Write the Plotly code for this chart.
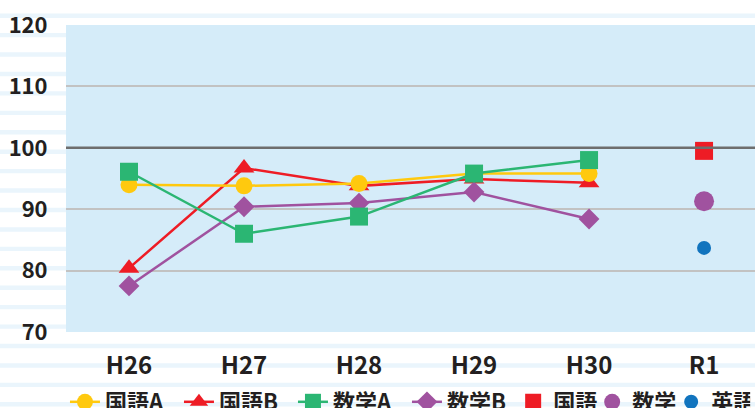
import plotly.graph_objects as go

categories = ["H26", "H27", "H28", "H29", "H30", "R1"]
years = categories[:5]
kokugo_a = [94.0, 93.8, 94.2, 95.8, 95.8]
kokugo_b = [80.4, 96.7, 93.8, 94.9, 94.3]
sugaku_a = [96.1, 86.0, 88.8, 95.8, 98.0]
sugaku_b = [77.5, 90.4, 91.0, 92.8, 88.4]
r1_cat = ["R1"]
r1_kokugo = [99.5]
r1_sugaku = [91.3]
r1_eigo = [83.7]
y_ticks = [70, 80, 90, 100, 110, 120]

FONT = "Noto Sans CJK JP"
TXT = "#231F20"
YELLOW = "#FFC90E"
RED = "#EE1C25"
GREEN = "#2BB673"
PURPLE = "#A0529F"
BLUE = "#1174BE"

fig = go.Figure()

def line_trace(name, y, color, symbol, size, rank):
    return go.Scatter(
        x=years, y=y, name=name, mode="lines+markers",
        line=dict(color=color, width=2.5),
        marker=dict(symbol=symbol, size=size, color=color, line=dict(width=0)),
        legendrank=rank, legend="legend",
    )

fig.add_trace(line_trace("国語B", kokugo_b, RED, "triangle-up", 18, 2))
fig.add_trace(line_trace("国語A", kokugo_a, YELLOW, "circle", 17, 1))
fig.add_trace(line_trace("数学B", sugaku_b, PURPLE, "diamond", 16, 4))
fig.add_trace(line_trace("数学A", sugaku_a, GREEN, "square", 18, 3))
fig.add_trace(go.Scatter(x=r1_cat, y=r1_kokugo, name="国語", mode="markers",
                         marker=dict(symbol="square", size=18, color=RED),
                         legendrank=5, legend="legend2"))
fig.add_trace(go.Scatter(x=r1_cat, y=r1_sugaku, name="数学", mode="markers",
                         marker=dict(symbol="circle", size=20, color=PURPLE),
                         legendrank=6, legend="legend2"))
fig.add_trace(go.Scatter(x=r1_cat, y=r1_eigo, name="英語", mode="markers",
                         marker=dict(symbol="circle", size=14, color=BLUE),
                         legendrank=7, legend="legend2"))

# Background notebook stripes (paper-referenced, relative to plot area)
top_px, bot_px = 25.0, 332.0
h = bot_px - top_px
def py(p):
    return (bot_px - p) / h
shapes = []
for k in range(21):
    c = 15.7 + 19.43 * k
    shapes.append(dict(type="rect", xref="paper", yref="paper", layer="below",
                       x0=-0.2, x1=1.2, y0=py(c + 2.2), y1=py(c - 2.2),
                       fillcolor="#EAF5FC", line=dict(width=0)))
shapes.append(dict(type="rect", xref="paper", yref="paper", layer="below",
                   x0=0, x1=1, y0=0, y1=1, fillcolor="#D5ECF9", line=dict(width=0)))
shapes.append(dict(type="line", xref="paper", yref="y", layer="above",
                   x0=0, x1=1, y0=100, y1=100, line=dict(color="#6E6E6E", width=2.5)))

leg_font = dict(family=FONT, size=22, color=TXT, weight="bold")
fig.update_layout(
    width=755, height=408,
    margin=dict(l=66, r=0, t=25, b=76, autoexpand=False),
    paper_bgcolor="white",
    plot_bgcolor="rgba(0,0,0,0)",
    font=dict(family=FONT, size=22, color=TXT),
    shapes=shapes,
    showlegend=True,
    legend=dict(orientation="h", x=-0.0015, xanchor="left", y=-0.228, yanchor="middle",
                font=leg_font, bgcolor="rgba(0,0,0,0)", itemwidth=30,
                entrywidth=69, entrywidthmode="pixels", traceorder="normal"),
    legend2=dict(orientation="h", x=0.649, xanchor="left", y=-0.228, yanchor="middle",
                 font=leg_font, bgcolor="rgba(0,0,0,0)", itemwidth=30,
                 entrywidth=34, entrywidthmode="pixels", traceorder="normal"),
    xaxis=dict(type="category", categoryorder="array", categoryarray=categories,
               range=[-0.548, 5.443], showgrid=False, zeroline=False,
               ticks="outside", ticklen=12, tickcolor="rgba(0,0,0,0)",
               tickfont=dict(family=FONT, size=24, weight="bold", color=TXT),
               showline=False),
    yaxis=dict(range=[70, 120], tickvals=y_ticks, showgrid=True, gridcolor="#C2C2C2",
               gridwidth=1.5, zeroline=False, showline=False,
               ticks="outside", ticklen=13, tickcolor="rgba(0,0,0,0)",
               tickfont=dict(family=FONT, size=22, weight="bold", color=TXT)),
)

fig.write_html("out.html", config={"displayModeBar": False},
               post_script="document.body.style.margin='0px';")
